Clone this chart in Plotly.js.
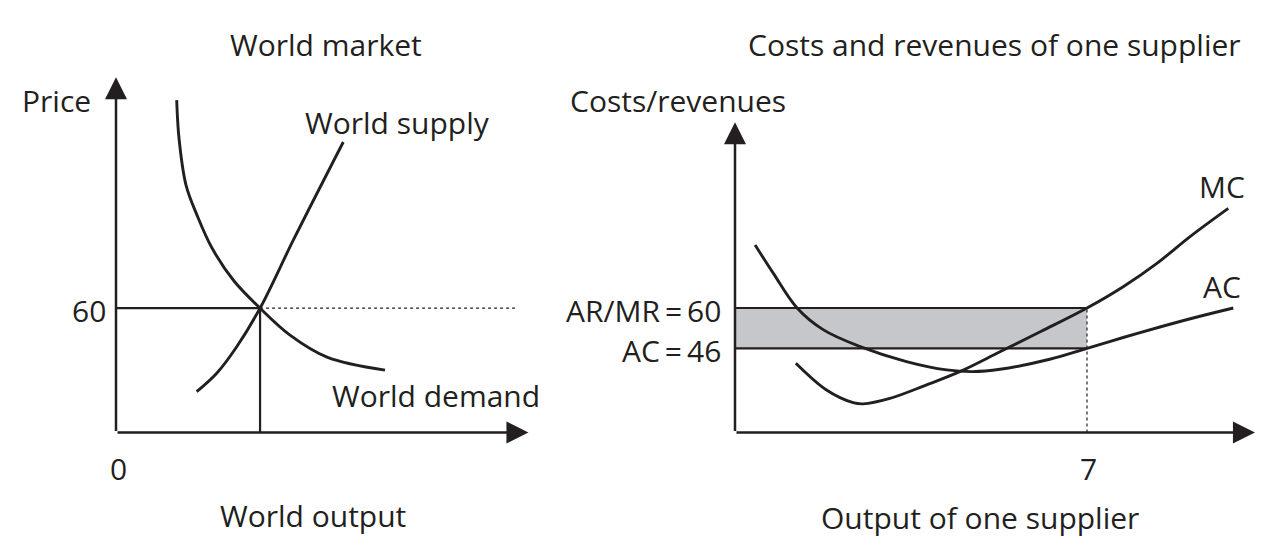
<!DOCTYPE html>
<html><head><meta charset="utf-8">
<script src="https://cdn.plot.ly/plotly-3.0.1.min.js"></script>
<style>html,body{margin:0;padding:0;background:#fff}#chart{width:1280px;height:557px}</style>
</head><body><div id="chart"></div>
<script>
// ---- World market (left panel) ----
const demandQ = [14.45, 15.0, 16.67, 19.29, 22.86, 28.1, 34.3, 41.43, 50.24, 64.05];
const demandP = [160.4, 142.0, 119.4, 104.9, 89.0, 73.1, 60.0, 47.0, 36.4, 30.1];
const supplyQ = [19.21, 23.98, 28.74, 34.3, 42.21, 54.12];
const supplyP = [19.7, 28.6, 41.4, 60.0, 92.8, 140.2];
const worldPrice = 60;
const worldQ = 34.3;

// ---- One supplier (right panel) ----
const acQ = [0.4, 0.76, 1.23, 1.76, 2.49, 3.41, 4.21, 4.73, 5.27, 6.26, 7.0, 7.72, 8.45, 9.15, 9.91];
const acC = [81.9, 72.1, 60.1, 52.4, 46.6, 41.4, 38.5, 37.9, 38.7, 42.2, 46.0, 49.75, 53.4, 56.7, 60.0];
const mcQ = [1.21, 1.82, 2.35, 2.55, 3.08, 3.81, 4.47, 5.27, 6.1, 7.0, 7.72, 8.39, 9.05, 9.81];
const mcC = [40.8, 31.5, 27.1, 26.7, 28.6, 33.3, 37.9, 44.8, 52.0, 60.0, 67.4, 75.5, 84.8, 94.6];
const firmQ = 7;
const firmAR = 60;
const firmAC = 46;

// ---- text ----
const leftTitle = 'World market';
const rightTitle = 'Costs and revenues of one supplier';
const leftY = 'Price', leftX = 'World output';
const rightY = 'Costs/revenues', rightX = 'Output of one supplier';
const supplyLabel = 'World supply', demandLabel = 'World demand';
const mcLabel = 'MC', acLabel = 'AC';

// ---- styling / layout constants ----
const INK = '#231f20';
const W = 1280, H = 557;
const px = v => v / W;
const py = v => 1 - v / H;
const FONT = {family: 'Open Sans, sans-serif', size: 30, color: INK};

const L = {xr: [0, 100], yr: [0, 172], xTip: 98.2, yTip: 171.5, dotEnd: 95.7};
const R = {xr: [0, 10.54], yr: [16.75, 124.51], xTip: 10.34, yTip: 124.5};

const curve = {color: INK, width: 2.9, shape: 'spline', smoothing: 1};
const thin = {color: INK, width: 2.2};

const traces = [
  // left panel
  {x: [0, worldQ], y: [worldPrice, worldPrice], mode: 'lines', line: thin, xaxis: 'x', yaxis: 'y'},
  {x: [worldQ, worldQ], y: [0, worldPrice], mode: 'lines', line: thin, xaxis: 'x', yaxis: 'y'},
  {x: [worldQ, L.dotEnd], y: [worldPrice, worldPrice], mode: 'lines', line: {color: INK, width: 1.2, dash: 'dot'}, xaxis: 'x', yaxis: 'y'},
  {x: demandQ, y: demandP, mode: 'lines', line: curve, xaxis: 'x', yaxis: 'y'},
  {x: supplyQ, y: supplyP, mode: 'lines', line: curve, xaxis: 'x', yaxis: 'y'},
  // right panel
  {x: [0, firmQ, firmQ, 0, 0], y: [firmAC, firmAC, firmAR, firmAR, firmAC], mode: 'lines', fill: 'toself', fillcolor: '#c6c7ca', line: {width: 0, color: 'rgba(0,0,0,0)'}, xaxis: 'x2', yaxis: 'y2'},
  {x: [0, firmQ], y: [firmAR, firmAR], mode: 'lines', line: thin, xaxis: 'x2', yaxis: 'y2'},
  {x: [0, firmQ], y: [firmAC, firmAC], mode: 'lines', line: thin, xaxis: 'x2', yaxis: 'y2'},
  {x: [firmQ, firmQ], y: [R.yr[0], firmAR], mode: 'lines', line: {color: INK, width: 1.2, dash: 'dot'}, xaxis: 'x2', yaxis: 'y2'},
  {x: acQ, y: acC, mode: 'lines', line: curve, xaxis: 'x2', yaxis: 'y2'},
  {x: mcQ, y: mcC, mode: 'lines', line: curve, xaxis: 'x2', yaxis: 'y2'}
];
traces.forEach(t => { t.hoverinfo = 'skip'; t.showlegend = false; t.cliponaxis = false; });

function axisArrow(xref, yref, x, y, x0, y0) {
  return {xref, yref, axref: xref, ayref: yref, x, y, ax: x0, ay: y0, text: '',
    showarrow: true, arrowhead: 2, arrowsize: 1.76, arrowwidth: 2.5, arrowcolor: INK, standoff: 0};
}
function label(text, x, y, xanchor) {
  return {xref: 'paper', yref: 'paper', x: px(x), y: py(y), text, showarrow: false,
    xanchor: xanchor || 'center', yanchor: 'middle', font: FONT};
}

const annotations = [
  axisArrow('x', 'y', 0, L.yTip, 0, 0),
  axisArrow('x', 'y', L.xTip, 0, 0, 0),
  axisArrow('x2', 'y2', 0, R.yTip, 0, R.yr[0]),
  axisArrow('x2', 'y2', R.xTip, R.yr[0], 0, R.yr[0]),
  label(leftTitle, 326, 45),
  label(leftY, 56, 100),
  label(String(worldPrice), 108, 310, 'right'),
  label(supplyLabel, 303, 122, 'left'),
  label(demandLabel, 330, 395, 'left'),
  label('0', 118, 468),
  label(leftX, 313, 515),
  label(rightTitle, 994, 45),
  label(rightY, 678, 100),
  label(mcLabel, 1222, 186),
  label(acLabel, 1222, 286),
  label('AR/MR\u2009=\u2009' + firmAR, 723, 310, 'right'),
  label('AC\u2009=\u2009' + firmAC, 723, 350, 'right'),
  label(String(firmQ), 1088, 468),
  label(rightX, 980, 517)
];

const hidden = {visible: false, showgrid: false, zeroline: false, fixedrange: true};
const layout = {
  width: W, height: H,
  margin: {l: 0, r: 0, t: 0, b: 0},
  paper_bgcolor: '#ffffff', plot_bgcolor: 'rgba(0,0,0,0)',
  showlegend: false,
  xaxis: Object.assign({}, hidden, {domain: [px(116), px(536)], range: L.xr, anchor: 'y'}),
  yaxis: Object.assign({}, hidden, {domain: [py(432.5), py(76.1)], range: L.yr, anchor: 'x'}),
  xaxis2: Object.assign({}, hidden, {domain: [px(735), px(1265)], range: R.xr, anchor: 'y2'}),
  yaxis2: Object.assign({}, hidden, {domain: [py(432.5), py(122.3)], range: R.yr, anchor: 'x2'}),
  annotations
};

Plotly.newPlot('chart', traces, layout, {staticPlot: true, displayModeBar: false});
</script>
</body></html>
